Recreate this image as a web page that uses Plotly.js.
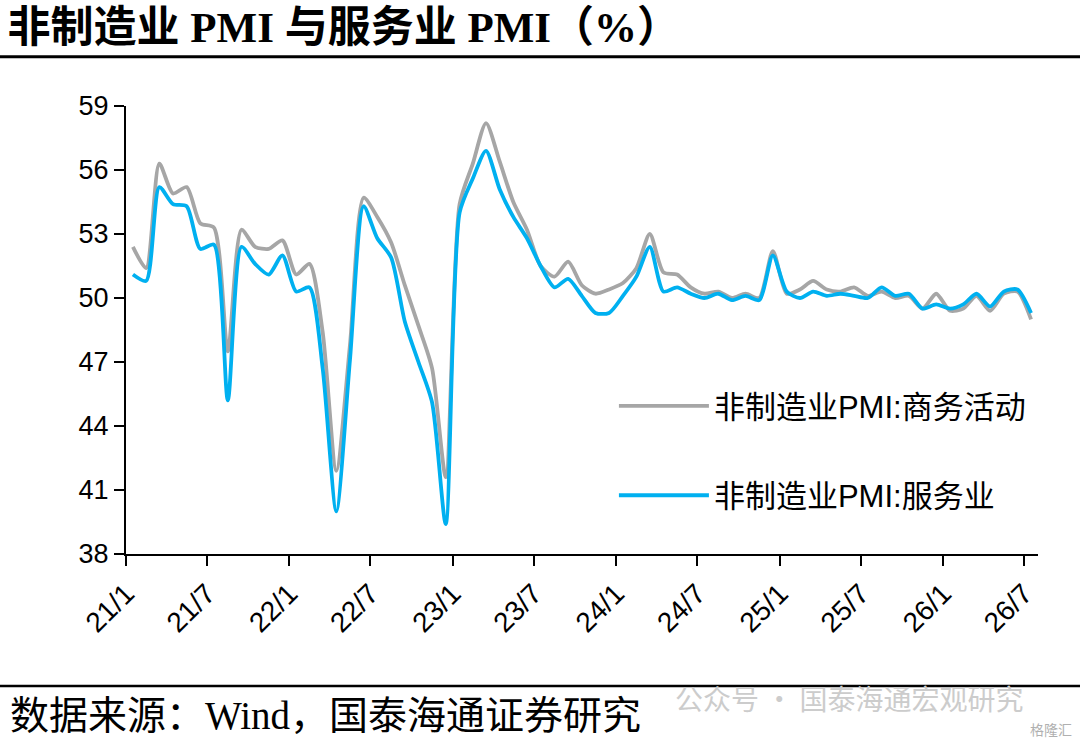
<!DOCTYPE html>
<html>
<head>
<meta charset="utf-8">
<script src="https://cdn.plot.ly/plotly-3.0.1.min.js"></script>
<style>
  html, body { margin: 0; padding: 0; background: #ffffff; }
  #chart { width: 1080px; height: 744px; }
</style>
</head>
<body>
<div id="chart"></div>
<script>
/* ── data ─────────────────────────────────────────────── */
const startYear = 2021;
const monthCount = 67;   // 21/1 .. 26/7

// 非制造业PMI:商务活动
const nonMfgPmi = [
  52.4, 51.4, 56.3, 54.9, 55.2, 53.5, 53.3, 47.5, 53.2, 52.4, 52.3, 52.7,
  51.1, 51.6, 48.4, 41.9, 47.8, 54.7, 53.8, 52.6, 50.6, 48.7, 46.7, 41.6,
  54.4, 56.3, 58.2, 56.4, 54.5, 53.2, 51.5, 51.0, 51.7, 50.6, 50.2, 50.4,
  50.7, 51.4, 53.0, 51.2, 51.1, 50.5, 50.2, 50.3, 50.0, 50.2, 50.0, 52.2,
  50.2, 50.4, 50.8, 50.4, 50.3, 50.5, 50.1, 50.3, 50.0, 50.1, 49.5, 50.2,
  49.4, 49.5, 50.1, 49.4, 50.2, 50.3, 49.0
];

// 非制造业PMI:服务业
const servicesPmi = [
  51.1, 50.8, 55.2, 54.4, 54.3, 52.3, 52.5, 45.2, 52.4, 51.6, 51.1, 52.0,
  50.3, 50.5, 46.7, 40.0, 47.1, 54.3, 52.8, 51.9, 48.9, 47.0, 45.1, 39.4,
  54.0, 55.6, 56.9, 55.1, 53.8, 52.8, 51.5, 50.5, 50.9, 50.1, 49.3, 49.3,
  50.1, 51.0, 52.4, 50.3, 50.5, 50.2, 50.0, 50.2, 49.9, 50.1, 49.9, 52.0,
  50.3, 50.0, 50.3, 50.1, 50.2, 50.1, 50.0, 50.5, 50.1, 50.2, 49.5, 49.7,
  49.5, 49.7, 50.2, 49.6, 50.3, 50.4, 49.3
];

const seriesNames = ["非制造业PMI:商务活动", "非制造业PMI:服务业"];
const yTicks = [38, 41, 44, 47, 50, 53, 56, 59];

// month strings "2021-01" ...
const months = [];
for (let i = 0; i < monthCount; i++) {
  const y = startYear + Math.floor(i / 12);
  const m = (i % 12) + 1;
  months.push(y + "-" + String(m).padStart(2, "0"));
}

/* ── colours / fonts ──────────────────────────────────── */
const colors = {
  grey : "#a6a6a6",
  blue : "#00b0f0",
  axis : "#000000"
};
const sansFont  = "Liberation Sans, Arial, Noto Sans CJK SC, sans-serif";
const serifFont = "Liberation Serif, Times New Roman, Noto Sans CJK SC, serif";

/* ── traces ───────────────────────────────────────────── */
function lineTrace(values, name, color, group) {
  return {
    x: months,
    y: values,
    xperiod: "M1",
    xperiodalignment: "middle",
    type: "scatter",
    mode: "lines",
    name: name,
    legendgroup: group,
    line: { color: color, width: 3.8, shape: "spline", smoothing: 0.7 },
    hoverinfo: "skip"
  };
}

const traces = [
  lineTrace(nonMfgPmi, seriesNames[0], colors.grey, "a"),
  lineTrace(servicesPmi, seriesNames[1], colors.blue, "b")
];

/* ── layout ───────────────────────────────────────────── */
const layout = {
  width: 1080,
  height: 744,
  margin: { l: 126, r: 42, t: 106, b: 190 },
  paper_bgcolor: "#ffffff",
  plot_bgcolor: "#ffffff",
  font: { family: sansFont, color: "#000000", size: 27 },
  title: {
    text: "<b>非制造业 PMI 与服务业 PMI（%）</b>",
    x: 0.007, xanchor: "left", xref: "container",
    y: 0.964, yanchor: "middle", yref: "container",
    font: { family: serifFont, size: 43, color: "#000000" }
  },
  xaxis: {
    type: "date",
    range: ["2021-01-01", "2026-08-01"],
    tickmode: "linear",
    tick0: "2021-01-01",
    dtick: "M6",
    tickformat: "%y/%-m",
    tickangle: -45,
    ticks: "outside",
    ticklen: 10,
    tickwidth: 2,
    tickcolor: colors.axis,
    showline: true,
    linecolor: colors.axis,
    linewidth: 2,
    showgrid: false,
    zeroline: false,
    tickfont: { family: sansFont, size: 28, color: "#000000" }
  },
  yaxis: {
    range: [38, 59],
    tickmode: "array",
    tickvals: yTicks,
    ticks: "outside",
    ticklen: 10,
    tickwidth: 2,
    tickcolor: colors.axis,
    showline: true,
    linecolor: colors.axis,
    linewidth: 2,
    showgrid: false,
    zeroline: false,
    tickfont: { family: sansFont, size: 27, color: "#000000" }
  },
  showlegend: true,
  legend: {
    x: 0.535, xanchor: "left",
    y: 0.39, yanchor: "top",
    bgcolor: "rgba(0,0,0,0)",
    traceorder: "grouped",
    tracegroupgap: 46,
    itemwidth: 90,
    font: { family: sansFont, size: 31, color: "#000000" }
  },
  shapes: [
    // rule under title
    { type: "line", xref: "paper", yref: "paper",
      x0: -0.14, x1: 1.05, y0: 1.11, y1: 1.11,
      line: { color: "#000000", width: 3 } },
    // rule above source
    { type: "line", xref: "paper", yref: "paper",
      x0: -0.14, x1: 1.05, y0: -0.2946, y1: -0.2946,
      line: { color: "#000000", width: 2.5 } }
  ],
  annotations: [
    { text: "数据来源：Wind，国泰海通证券研究",
      xref: "paper", yref: "paper", x: -0.1294, y: -0.36,
      xanchor: "left", yanchor: "middle", showarrow: false,
      font: { family: serifFont, size: 39, color: "#000000" } },
    { text: "公众号 · 国泰海通宏观研究",
      xref: "paper", yref: "paper", x: 0.6, y: -0.322,
      xanchor: "left", yanchor: "middle", showarrow: false,
      font: { family: "Noto Sans CJK SC, sans-serif", size: 28, color: "#cccccc" } },
    { text: "格隆汇",
      xref: "paper", yref: "paper", x: 1.04, y: -0.39,
      xanchor: "right", yanchor: "middle", showarrow: false,
      font: { family: "Noto Sans CJK SC, sans-serif", size: 14, color: "#b0b0b0" } }
  ]
};

const config = { displayModeBar: false, responsive: false };

Plotly.newPlot("chart", traces, layout, config);
</script>
</body>
</html>
